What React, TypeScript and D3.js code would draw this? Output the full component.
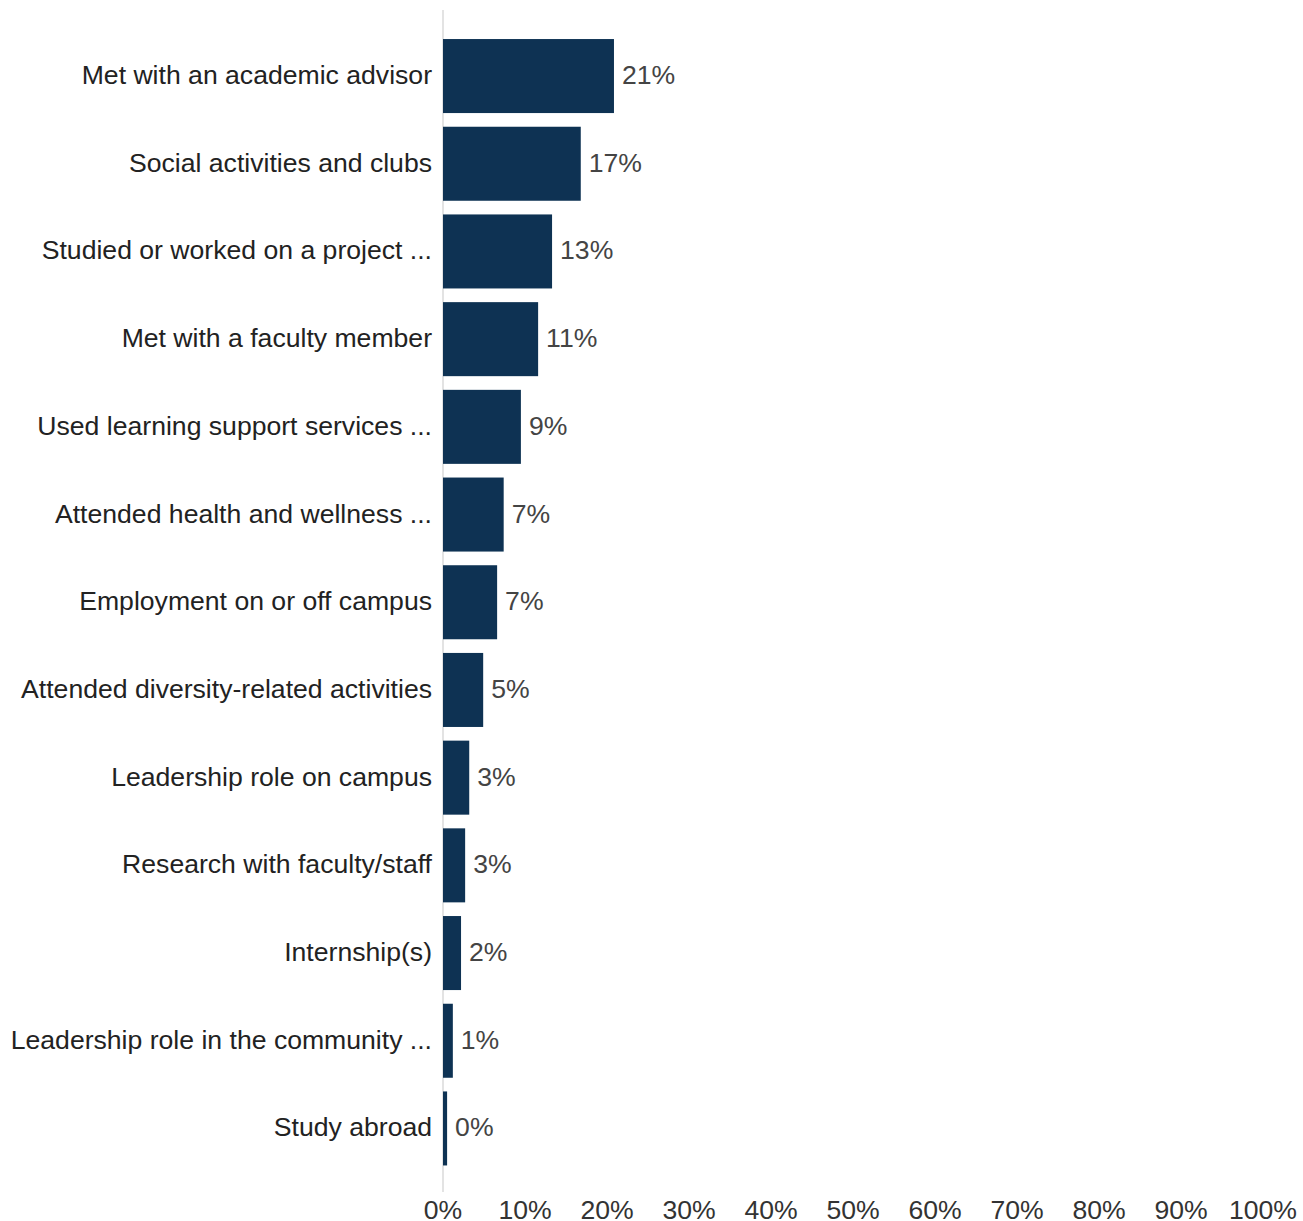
import React from "react";
import * as d3 from "d3";

const categories = [
  "Met with an academic advisor",
  "Social activities and clubs",
  "Studied or worked on a project ...",
  "Met with a faculty member",
  "Used learning support services ...",
  "Attended health and wellness ...",
  "Employment on or off campus",
  "Attended diversity-related activities",
  "Leadership role on campus",
  "Research with faculty/staff",
  "Internship(s)",
  "Leadership role in the community ...",
  "Study abroad",
];
const values = [20.85, 16.8, 13.3, 11.6, 9.5, 7.4, 6.6, 4.9, 3.2, 2.7, 2.2, 1.2, 0.5];
const valueLabels = ["21%", "17%", "13%", "11%", "9%", "7%", "7%", "5%", "3%", "3%", "2%", "1%", "0%"];
const ticks = [0, 10, 20, 30, 40, 50, 60, 70, 80, 90, 100];

export default function App() {
  const W = 1303;
  const H = 1221;
  const x = d3.scaleLinear().domain([0, 100]).range([443, 1263]);
  const y = d3
    .scaleBand<string>()
    .domain(categories)
    .range([32.2, 1172.3])
    .paddingInner(0.156)
    .paddingOuter(0.078);
  const font = "'Liberation Sans', Arial, sans-serif";
  const fs = 26.6;
  return (
    <svg
      width={W}
      height={H}
      style={{ position: "absolute", left: 0, top: 0, background: "#fff" }}
      fontFamily={font}
    >
      <line x1={x(0)} x2={x(0)} y1={10} y2={1192} stroke="#e3e3e3" strokeWidth={2} />
      {categories.map((c, i) => {
        const yy = y(c)!;
        const bw = y.bandwidth();
        return (
          <g key={c}>
            <rect x={x(0)} y={yy} width={x(values[i]) - x(0)} height={bw} fill="#0e3253" />
            <text x={432} y={yy + bw / 2 + 8} textAnchor="end" fontSize={fs} fill="#222">
              {c}
            </text>
            <text x={x(values[i]) + 8} y={yy + bw / 2 + 8} fontSize={fs} fill="#444">
              {valueLabels[i]}
            </text>
          </g>
        );
      })}
      {ticks.map((t) => (
        <text key={t} x={x(t)} y={1218.5} textAnchor="middle" fontSize={fs} fill="#333">
          {t}%
        </text>
      ))}
    </svg>
  );
}
